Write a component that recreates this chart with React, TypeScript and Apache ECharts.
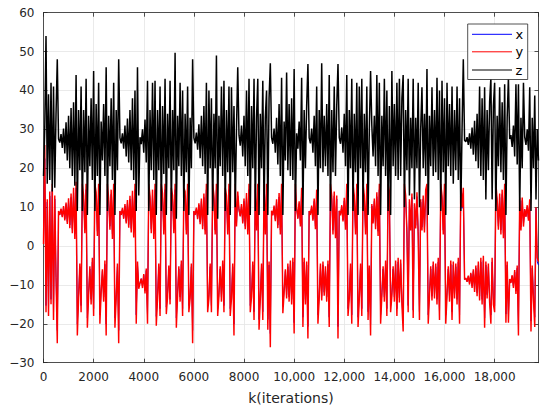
import React, { useEffect, useRef } from "react";
import * as echarts from "echarts";

// sampling of the read-off series (iterations between samples)
const STEP = 50;
const K_MIN = 0;
const K_MAX = 19750;
const Y_MIN = -30;
const Y_MAX = 60;

const seriesNames = ["x", "y", "z"];

// x(k), one value every 50 iterations (mostly hidden under y)
const xValues = [
  2.1, 22.5, -15.3, 11.3, -16.1, 12.9, -13.7, 14.5, -16.9, 12.1, -8.1, -21.7,
  8.9, 8.1, 9.4, 7.6, 9.9, 7.0, 10.7, 6.3, 11.5, 5.4, 12.5, 4.3, 13.7, 3.1,
  14.9, -20.1, -12.5, -5.3, -15.3, 14.5, 12.1, 4.3, 14.5, -18.5,
  -11.9, -5.9, -13.7, -4.1, -16.1, 14.5, 12.7, 3.8, 14.5, -17.7,
  -11.3, -6.5, -13.1, -4.7, -20.1, 14.5, 11.5, 5.1, 13.3, 3.1,
  14.5, -18.5, -12.5, -5.3, -21.7,
  8.9, 8.1, 9.5, 7.3, 10.3, 6.3, 11.1, 5.5, 12.0, 4.5, 13.1, 3.5,
  14.5, -17.7, -4.9, -10.5, -9.4, -8.4, -10.3, -7.5, -11.5, -6.3, -17.7, 14.5,
  12.1, 4.3, 13.3, 3.1, 14.5, -18.1, -12.5, -5.3, -16.1, 14.5,
  12.5, 4.1, 14.5, -15.7, -12.1, -5.7, -13.7, 13.7, 12.1, 4.3, 14.5, -18.5,
  -11.9, -5.9, -13.1, -4.7, -16.1, 13.7, 12.9, 4.1, 14.5, -15.3, -12.5, -5.3, -21.7,
  8.9, 8.1, 9.6, 7.2, 10.5, 6.2, 11.5, 5.1, 12.5, 4.1,
  14.5, -15.3, -12.5, -5.3, -15.3, 14.5, 12.1, 4.1, 14.5, -16.1,
  -11.9, -5.9, -13.1, -4.7, -15.3, 13.7, 12.1, 4.1, 14.5, -16.1, -12.5, -5.3,
  -20.1, 14.5, 5.7, 12.9,
  9.2, 7.8, 10.3, 6.3, 11.5, 5.1, 12.6, 4.1,
  14.5, -15.3, -12.1, -4.9, -16.9, 14.5, 4.9, 14.5, -18.9, -12.5, -5.3, -16.9, 14.5, 4.1, 14.5, -18.9, -4.9, -22.5,
  9.0, 8.0, 10.0, 6.8, 11.3, 5.4, 12.6, 4.1,
  14.5, -15.5, -11.3, -6.5, -12.5, -5.3, -13.1, -4.7, -13.7, -4.1, -19.7, 14.5,
  9.5, 7.3, 10.9, 5.7, 13.7, -18.3, -4.1, -13.7, -4.9, -20.7,
  8.9, 8.1, 10.0, 6.9, 11.5, 5.1, 13.3, -17.7,
  -12.5, -5.3, -12.9, -4.9, -11.9, -5.9, -13.1, -4.7, -18.3, 14.5,
  12.1, 4.1, 12.9, 3.3, 12.1, -20.7,
  9.0, 8.0, 10.1, 6.7, 11.6, 5.1,
  14.5, -16.1, -12.5, -5.3, -17.7, 14.5, 12.1, 4.1, 14.5, -18.3,
  -12.5, -5.3, -16.1, 14.5, 12.1, 4.1, 14.5, -16.9, -5.7, -20.1,
  10.3, 6.3, 11.5, 5.1, 12.7, 3.8, 14.5, -17.7,
  -11.9, -5.9, -13.1, -4.7, -16.1, 14.5, 12.9, -15.3,
  -11.9, -5.9, -13.1, -4.7, -16.1, -4.1, -13.3, -4.5, -13.7, -19.3, 14.5,
  12.1, 4.3, -15.3, 11.3, 4.9, 12.5, -16.5, 10.5, 5.3, 12.7, 3.7, -16.9, 11.3,
  4.9, 12.1, 4.5, 13.3, 14.5, -17.7,
  -11.9, -5.9, -12.9, -4.9, -12.5, -5.3, -13.7, -4.1, -16.9, 14.5,
  12.1, 4.1, 14.5, -17.7,
  -11.9, -5.9, -13.1, -4.7, -16.9, -4.9, -12.5, -5.3, -13.7, -4.1, -17.7, 14.5, 9.7, 13.7,
  -8.6, -8.3, -9.1, -7.8, -9.6, -7.2, -10.3, -6.5, -11.1, -5.7, -12.0, -4.9, -12.9, -4.1,
  -13.7, -3.7, -18.5, -4.9, -12.5, -5.3, -13.3, -17.7, -4.1, -13.7, -15.3, 14.5,
  11.3, 5.1, 12.5, 4.1, 13.3, 3.3, 14.5, -17.5, -4.9, -17.5,
  -8.5, -9.3, -7.7, -10.3, -6.7, -11.5, -5.7, -20.1, 11.7, 4.9, 11.7, 5.7,
  9.3, 7.7, 10.1, 6.9, 11.3, -19.3, -5.7, -12.9, -18.3, 9.7, -4.1, -4.9,
];

// y(k), one value every 50 iterations
const yValues = [
  0.5, 26, -17, 12, -18, 14, -15, 16, -19, 13, -8, -25,
  9.0, 8.0, 9.6, 7.4, 10.3, 6.6, 11.2, 5.7, 12.3, 4.6, 13.5, 3.3, 15.0, 1.8,
  16.5, -23, -13.5, -4.5, -17, 16, 13, 3.3, 16, -21,
  -12.8, -5.2, -15, -3, -18, 16, 13.8, 2.6, 16, -20,
  -12, -6, -14.3, -3.7, -23, 16, 12.2, 4.2, 14.5, 1.8,
  16, -21, -13.5, -4.5, -25,
  9.0, 8.0, 9.8, 7.0, 10.8, 5.8, 11.8, 4.7, 12.9, 3.5, 14.2, 2.2,
  16, -20, -4, -11, -9.6, -8.4, -10.8, -7.2, -12.2, -5.8, -20, 16,
  13, 3.3, 14.5, 1.8, 16, -20.5, -13.5, -4.5, -18, 16,
  13.5, 3, 16, -17.5, -13, -5, -15, 15, 13, 3.3, 16, -21,
  -12.8, -5.2, -14.3, -3.7, -18, 15, 14, 3, 16, -17, -13.5, -4.5, -25,
  9.0, 8.0, 9.9, 6.9, 11, 5.6, 12.2, 4.3, 13.5, 3,
  16, -17, -13.5, -4.5, -17, 16, 13, 3, 16, -18,
  -12.8, -5.2, -14.3, -3.7, -17, 15, 13, 3, 16, -18, -13.5, -4.5,
  -23, 16, 5, 14,
  9.4, 7.6, 10.8, 5.8, 12.2, 4.3, 13.6, 3,
  16, -17, -13, -4, -19, 16, 4, 16, -21.5, -13.5, -4.5, -19, 16, 3, 16, -21.5, -4, -26,
  9.1, 7.9, 10.4, 6.4, 12, 4.6, 13.6, 3,
  16, -17.3, -12, -6, -13.5, -4.5, -14.3, -3.7, -15, -3, -22.5, 16,
  9.8, 7, 11.5, 5, 15, -20.8, -3, -15, -4, -23.8,
  9.0, 8.0, 10.4, 6.5, 12.2, 4.3, 14.5, -20,
  -13.5, -4.5, -14, -4, -12.8, -5.2, -14.3, -3.7, -20.8, 16,
  13, 3, 14, 2, 13, -23.8,
  9.1, 7.9, 10.5, 6.3, 12.4, 4.2,
  16, -18, -13.5, -4.5, -20, 16, 13, 3, 16, -20.8,
  -13.5, -4.5, -18, 16, 13, 3, 16, -19, -5, -23,
  10.8, 5.8, 12.2, 4.3, 13.8, 2.6, 16, -20,
  -12.8, -5.2, -14.3, -3.7, -18, 16, 14, -17,
  -12.8, -5.2, -14.3, -3.7, -18, -3, -14.5, -3.5, -15, -22, 16,
  13, 3.3, -17, 12, 4, 13.5, -18.5, 11, 4.5, 13.8, 2.5, -19, 12,
  4, 13, 3.5, 14.5, 16, -20,
  -12.8, -5.2, -14, -4, -13.5, -4.5, -15, -3, -19, 16,
  13, 3, 16, -20,
  -12.8, -5.2, -14.3, -3.7, -19, -4, -13.5, -4.5, -15, -3, -20, 16, 10, 15,
  -8.6, -8.2, -9.2, -7.6, -9.9, -6.9, -10.8, -6, -11.8, -5, -12.9, -4, -14, -3,
  -15, -2.5, -21, -4, -13.5, -4.5, -14.5, -20, -3, -15, -17, 16,
  12, 4.2, 13.5, 3, 14.5, 2, 16, -19.7, -4, -19.7,
  -8.5, -9.5, -7.5, -10.8, -6.2, -12.3, -5, -23, 12.5, 4, 12.5, 5,
  9.5, 7.5, 10.5, 6.5, 12, -22, -5, -14, -20.8, 10, -3, -4,
];

// z(k), one value every 50 iterations
const zValues = [
  18, 30, 54, 16, 39, 17, 42, 14, 41, 15, 34, 48,
  27.5, 26.6, 28.8, 25.2, 30.2, 23.8, 31.8, 22.0, 33.5, 20.0, 35.5, 18.0, 37.0, 15.5,
  44, 9, 35, 19.5, 41, 9, 35, 19, 43, 8,
  33.5, 20.5, 38, 17, 45, 9, 36.5, 18, 42, 8,
  32, 22, 36.5, 18, 46, 9, 33.5, 20.5, 38, 17,
  42, 8, 35, 19.5, 48,
  27.8, 26.4, 29, 25, 31, 23, 32.8, 21.5, 35, 19.5, 38, 17,
  40, 9, 46, 13, 28, 26.2, 30, 24, 32.5, 21.5, 42.5, 9,
  35, 19.5, 42, 17, 42.5, 8, 35, 19.5, 41, 9,
  36, 18.5, 43, 8, 34, 20, 42.5, 9, 35, 19.5, 49.7, 7,
  33.5, 20.5, 42, 18, 40, 9, 34, 19, 41, 8, 33, 20, 48,
  27.8, 26.4, 29.2, 24.8, 31.3, 22.6, 33.5, 20.5, 36, 18.5,
  42, 8, 40, 20, 38, 9, 34, 20, 49, 7,
  33.5, 20.5, 41, 18, 42.5, 9, 35, 19, 41, 8, 40.8, 19,
  36, 10, 30, 46,
  28.5, 25.8, 31, 23, 33.5, 20.5, 40, 18,
  43, 8, 36, 20, 43, 9, 33, 43, 8, 34, 20, 42.5, 9, 33, 40, 8, 38, 47,
  27.9, 26.3, 30.2, 24, 33, 21, 36.5, 18,
  43.3, 8, 32, 22, 44.6, 19.5, 36.5, 18, 38, 17, 45.5, 9,
  29, 25, 32, 22, 43.3, 8, 35, 20, 36, 46.8,
  27.8, 26.4, 30.2, 24, 33.5, 20.5, 41, 8,
  35, 20, 47, 19, 33.5, 20.5, 36.5, 18, 44, 9,
  35, 19, 41, 18, 36, 46.8,
  27.9, 26.3, 30.5, 24, 34, 20.5,
  44, 8, 35, 20, 43, 9, 34, 19, 42, 8,
  41, 20, 43, 9, 34, 19, 41, 8, 30, 45,
  31, 23, 33.5, 20.5, 44, 18, 42, 8,
  33.5, 20.5, 43, 18, 40, 9, 36, 8,
  45, 20.5, 36.5, 18, 42, 17, 43, 18, 38, 44, 10,
  35, 19.5, 43, 13, 33, 20, 43, 12, 33, 20, 42, 10, 30,
  40.8, 20, 34, 18, 45.5, 8,
  33.5, 20.5, 40.8, 18, 35, 19, 43.3, 17, 40, 9,
  42.5, 19, 38, 8,
  42, 20.5, 36.5, 18, 41, 16, 35, 19.5, 41, 17, 38, 9, 30, 48,
  27.2, 26.8, 28, 26, 29, 25, 30.5, 23.5, 32.2, 21.8, 34, 20, 41, 18,
  38, 17, 40.8, 12, 35, 19.5, 37, 43.3, 12, 36, 42, 9,
  33.5, 20.5, 40.8, 19, 37, 17, 41.6, 8, 33, 43.3,
  27.5, 28.5, 25.5, 31, 23, 41.6, 21, 41.6, 9, 33, 20, 42,
  28, 26, 30, 24.5, 40.8, 9, 33, 20, 38.7, 12, 30, 22,
];

const xTickValues = [0, 2000, 4000, 6000, 8000, 10000, 12000, 14000, 16000, 18000];

const FONT = "DejaVu Sans";
const AXIS_COLOR = "#262626";

export default function App() {
  const ref = useRef<HTMLDivElement>(null);

  useEffect(() => {
    if (!ref.current) return;
    const chart = echarts.init(ref.current, null, { renderer: "svg" });
    const toPairs = (arr: number[]) => arr.map((v, i) => [i * STEP, v]);
    const fmtY = (v: number) => (v < 0 ? "\u2212" + Math.abs(v) : String(v));
    const fmtX = (v: number) => {
      if (xTickValues.indexOf(v) < 0) return "";
      return v >= 10000 ? v.toLocaleString("en-US") : String(v);
    };
    const axisLine = { show: true, onZero: false, lineStyle: { color: AXIS_COLOR, width: 0.8 } };
    const axisTick = { show: true, inside: true, length: 4, lineStyle: { color: AXIS_COLOR, width: 0.8 } };
    const grid = { show: true, lineStyle: { color: "#e4e4e4", width: 0.8 } };

    const legendRows = [34.3, 51.8, 70];
    const legendColors = ["#0000ff", "#ff0000", "#000000"];
    const graphic: any[] = [
      {
        type: "rect",
        z: 100,
        shape: { x: 467.7, y: 24, width: 60, height: 55.5 },
        style: { fill: "#ffffff", stroke: AXIS_COLOR, lineWidth: 0.8 },
      },
    ];
    seriesNames.forEach((n, idx) => {
      graphic.push({
        type: "line",
        z: 101,
        shape: { x1: 472, y1: legendRows[idx], x2: 512, y2: legendRows[idx] },
        style: { stroke: legendColors[idx], lineWidth: 1 },
      });
      graphic.push({
        type: "text",
        z: 101,
        style: {
          text: n,
          x: 515.5,
          y: legendRows[idx],
          fill: "#000000",
          font: `13px "${FONT}"`,
          align: "left",
          verticalAlign: "middle",
          textAlign: "left",
          textVerticalAlign: "middle",
        },
      });
    });

    const lineSeries = (name: string, values: number[], color: string, width: number) => ({
      name,
      type: "line",
      data: toPairs(values),
      showSymbol: false,
      symbol: "none",
      lineStyle: { color, width },
      silent: true,
    });

    chart.setOption({
      animation: false,
      backgroundColor: "#ffffff",
      grid: { left: 43.5, top: 12.7, right: 11.5, bottom: 53.3, containLabel: false },
      xAxis: [
        {
          type: "value",
          position: "bottom",
          min: K_MIN,
          max: K_MAX,
          interval: 2000,
          name: "k(iterations)",
          nameLocation: "middle",
          nameGap: 28,
          nameTextStyle: { fontFamily: FONT, fontSize: 14, color: AXIS_COLOR },
          axisLine,
          axisTick,
          axisLabel: {
            formatter: fmtX,
            fontFamily: FONT,
            fontSize: 12,
            color: AXIS_COLOR,
            margin: 8,
            showMaxLabel: false,
          },
          splitLine: grid,
        },
        {
          type: "value",
          position: "top",
          min: K_MIN,
          max: K_MAX,
          interval: 2000,
          axisLine,
          axisTick,
          axisLabel: { show: false },
          splitLine: { show: false },
        },
      ],
      yAxis: [
        {
          type: "value",
          position: "left",
          min: Y_MIN,
          max: Y_MAX,
          interval: 10,
          axisLine,
          axisTick,
          axisLabel: { formatter: fmtY, fontFamily: FONT, fontSize: 12, color: AXIS_COLOR, margin: 9 },
          splitLine: grid,
        },
        {
          type: "value",
          position: "right",
          min: Y_MIN,
          max: Y_MAX,
          interval: 10,
          axisLine,
          axisTick,
          axisLabel: { show: false },
          splitLine: { show: false },
        },
      ],
      series: [
        lineSeries(seriesNames[0], xValues, legendColors[0], 1),
        lineSeries(seriesNames[1], yValues, legendColors[1], 1.45),
        lineSeries(seriesNames[2], zValues, legendColors[2], 1.5),
      ],
      graphic,
    });
    return () => chart.dispose();
  }, []);

  return (
    <div
      ref={ref}
      style={{ position: "fixed", left: 0, top: 0, width: 550, height: 416, background: "#fff" }}
    />
  );
}
